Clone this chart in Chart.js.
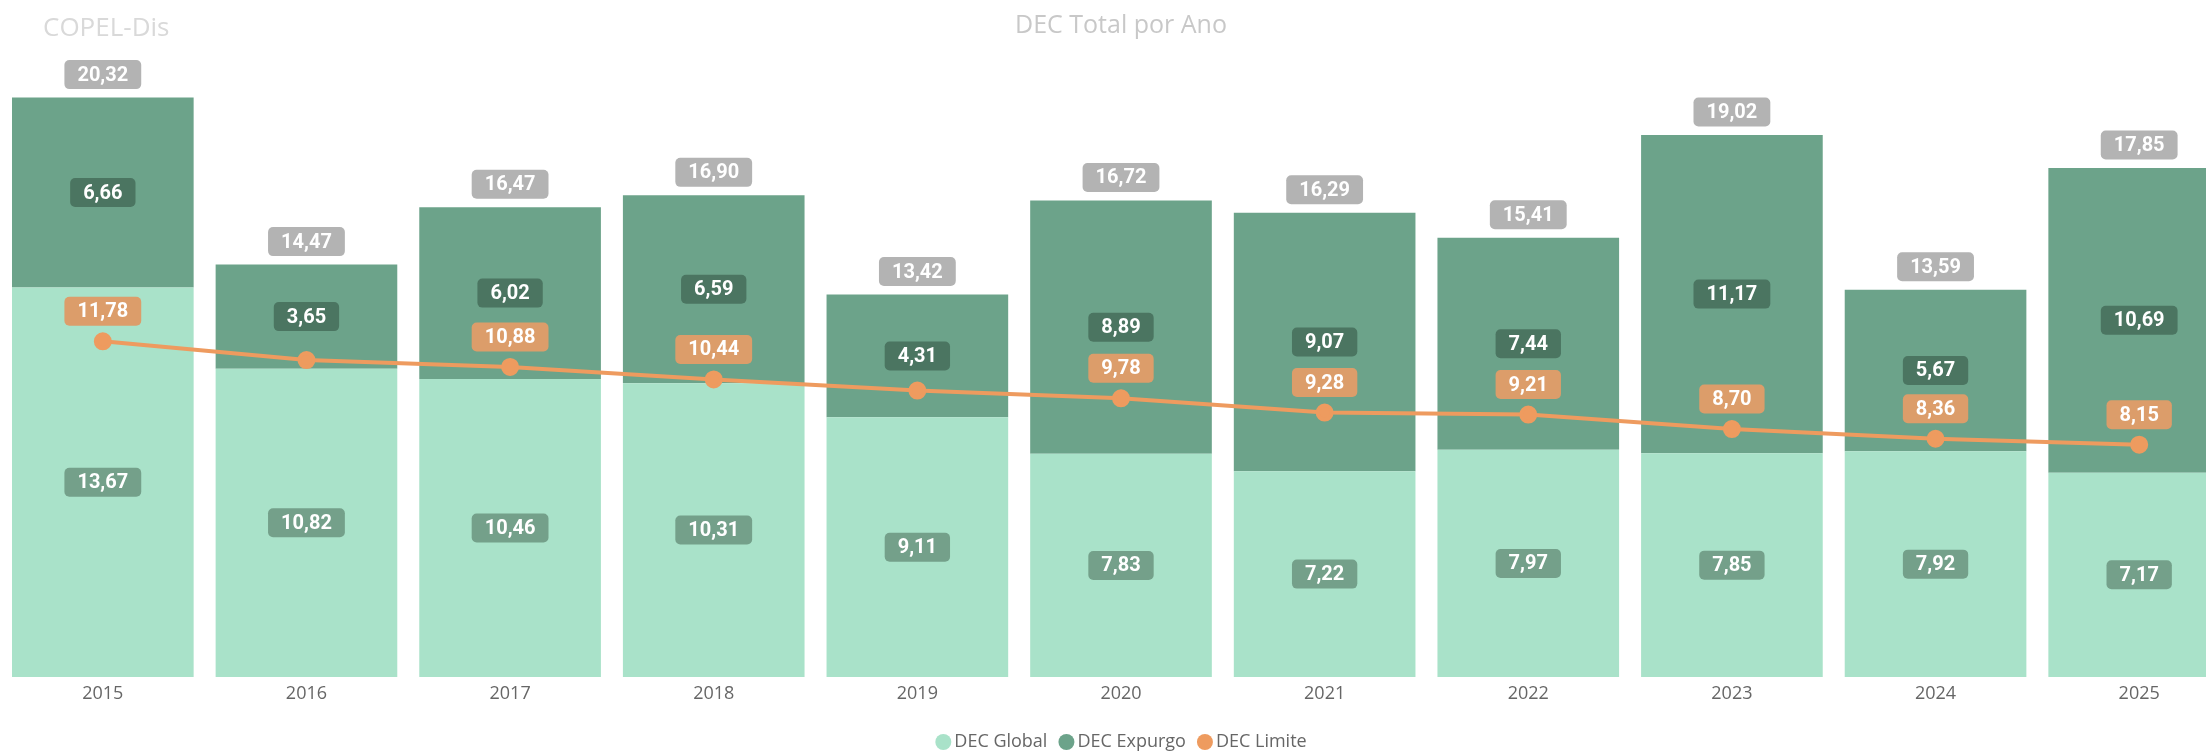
<!DOCTYPE html>
<html>
<head>
<meta charset="utf-8">
<script src="https://cdn.jsdelivr.net/npm/chart.js@4.4.1/dist/chart.umd.min.js"></script>
<style>
  html, body { margin: 0; padding: 0; background: #fff; overflow: hidden; }
  #wrap { width: 2241px; height: 751px; }
</style>
</head>
<body>
<div id="wrap"><canvas id="chart" width="2241" height="751"></canvas></div>
<script>
const years = ["2015", "2016", "2017", "2018", "2019", "2020", "2021", "2022", "2023", "2024", "2025"];
const decGlobal = [13.67, 10.82, 10.46, 10.31, 9.11, 7.83, 7.22, 7.97, 7.85, 7.92, 7.17];
const decExpurgo = [6.66, 3.65, 6.02, 6.59, 4.31, 8.89, 9.07, 7.44, 11.17, 5.67, 10.69];
const decTotal = [20.32, 14.47, 16.47, 16.90, 13.42, 16.72, 16.29, 15.41, 19.02, 13.59, 17.85];
const decLimite = [11.78, 11.12, 10.88, 10.44, 10.05, 9.78, 9.28, 9.21, 8.70, 8.36, 8.15];

const colors = {
  global: "#a9e2c9",
  expurgo: "#6ca38a",
  limite: "#ee9b5f",
  globalLabel: "#74a08a",
  expurgoLabel: "#4b7561",
  totalLabel: "#b3b3b3",
  limiteLabel: "#dc9d6a"
};

const labelFont = "bold 20px Roboto";
const fmt = v => v.toFixed(2).replace(".", ",");

function drawBox(ctx, text, cx, cy, bg) {
  ctx.font = labelFont;
  const w = ctx.measureText(text).width + 26;
  const h = 29;
  ctx.fillStyle = bg;
  ctx.beginPath();
  ctx.roundRect(cx - w / 2, cy - h / 2, w, h, 5);
  ctx.fill();
  ctx.fillStyle = "#ffffff";
  ctx.textAlign = "center";
  ctx.textBaseline = "middle";
  ctx.fillText(text, cx, cy + 1);
}

// value boxes on bars and line
const valueLabels = {
  id: "valueLabels",
  afterDatasetsDraw(chart) {
    const ctx = chart.ctx;
    const y = chart.scales.y;
    const barMeta = chart.getDatasetMeta(0);
    const lineMeta = chart.getDatasetMeta(2);
    ctx.save();
    years.forEach((yr, i) => {
      const cx = barMeta.data[i].x;
      const yGlobal = y.getPixelForValue(decGlobal[i] / 2);
      const yExp = y.getPixelForValue(decGlobal[i] + decExpurgo[i] / 2);
      const yTop = y.getPixelForValue(decGlobal[i] + decExpurgo[i]);
      drawBox(ctx, fmt(decGlobal[i]), cx, yGlobal, colors.globalLabel);
      drawBox(ctx, fmt(decExpurgo[i]), cx, yExp, colors.expurgoLabel);
      drawBox(ctx, fmt(decTotal[i]), cx, yTop - 23, colors.totalLabel);
      const pt = lineMeta.data[i];
      const yLim = pt.y - 30;
      // hidden when it would collide with the expurgo label
      if (Math.abs(yLim - yExp) >= 30) {
        drawBox(ctx, fmt(decLimite[i]), pt.x, yLim, colors.limiteLabel);
      }
    });
    ctx.restore();
  }
};

// titles and legend
const decorations = {
  id: "decorations",
  afterDraw(chart) {
    const ctx = chart.ctx;
    const area = chart.chartArea;
    ctx.save();
    ctx.textBaseline = "alphabetic";
    ctx.font = "26px 'Open Sans'";
    ctx.fillStyle = "#d9d9d9";
    ctx.textAlign = "left";
    ctx.fillText("COPEL-Dis", 43, 36);
    ctx.font = "25px 'Open Sans'";
    ctx.fillStyle = "#c8c8c8";
    ctx.textAlign = "center";
    ctx.fillText("DEC Total por Ano", (area.left + area.right) / 2, 33);

    // legend
    ctx.font = "18px 'Open Sans'";
    const items = chart.data.datasets.map(d => ({ text: d.label, color: d.legendColor }));
    const r = 8, gap = 3, spacing = 11;
    let total = 0;
    items.forEach(it => { it.w = 2 * r + gap + ctx.measureText(it.text).width; total += it.w; });
    total += spacing * (items.length - 1);
    let x = (area.left + area.right) / 2 - total / 2;
    const ly = 742;
    ctx.textAlign = "left";
    ctx.textBaseline = "middle";
    items.forEach(it => {
      ctx.fillStyle = it.color;
      ctx.beginPath();
      ctx.arc(x + r, ly, r, 0, Math.PI * 2);
      ctx.fill();
      ctx.fillStyle = "#666666";
      ctx.fillText(it.text, x + 2 * r + gap, ly);
      x += it.w + spacing;
    });
    ctx.restore();
  }
};

new Chart(document.getElementById("chart"), {
  data: {
    labels: years,
    datasets: [
      {
        type: "bar",
        label: "DEC Global",
        data: decGlobal,
        backgroundColor: colors.global,
        legendColor: colors.global,
        stack: "dec",
        order: 1,
        barPercentage: 0.892,
        categoryPercentage: 1
      },
      {
        type: "bar",
        label: "DEC Expurgo",
        data: decExpurgo,
        backgroundColor: colors.expurgo,
        legendColor: colors.expurgo,
        stack: "dec",
        order: 1,
        barPercentage: 0.892,
        categoryPercentage: 1
      },
      {
        type: "line",
        label: "DEC Limite",
        data: decLimite,
        borderColor: colors.limite,
        backgroundColor: colors.limite,
        legendColor: colors.limite,
        borderWidth: 4,
        pointRadius: 7,
        pointHoverRadius: 7,
        tension: 0,
        stack: "limite",
        order: 0
      }
    ]
  },
  options: {
    responsive: false,
    animation: false,
    layout: { autoPadding: false, padding: { top: 50, left: 1, right: 0, bottom: 44 } },
    plugins: {
      legend: { display: false },
      title: { display: false },
      tooltip: { enabled: false }
    },
    scales: {
      x: {
        stacked: true,
        grid: { display: false, drawTicks: false },
        border: { display: false },
        ticks: { color: "#666666", font: { family: "'Open Sans'", size: 18 }, padding: 6, maxRotation: 0 },
        afterFit(scale) {
          scale.height = 30;
          scale.paddingLeft = 0;
          scale.paddingRight = 0;
        }
      },
      y: {
        stacked: true,
        display: false,
        min: 0,
        max: 22
      }
    }
  },
  plugins: [valueLabels, decorations]
});
</script>
</body>
</html>
